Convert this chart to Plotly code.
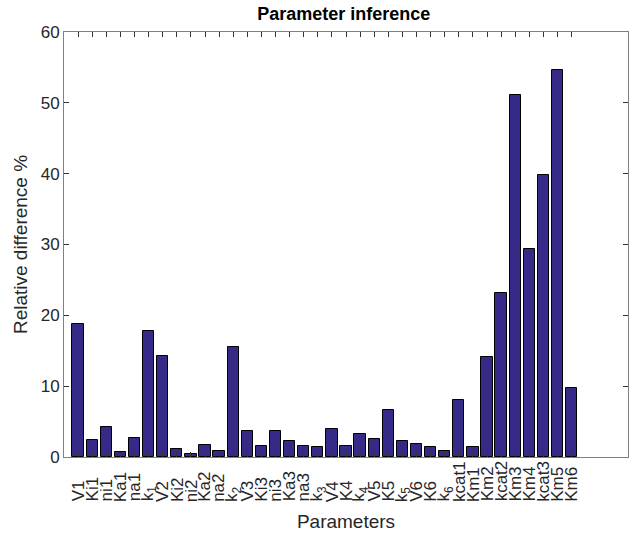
import plotly.graph_objects as go

# Parameter names (k_n rendered with a subscript index)
params = ["V1", "Ki1", "ni1", "Ka1", "na1", "k<sub>1</sub>",
          "V2", "Ki2", "ni2", "Ka2", "na2", "k<sub>2</sub>",
          "V3", "Ki3", "ni3", "Ka3", "na3", "k<sub>3</sub>",
          "V4", "K4", "k<sub>4</sub>", "V5", "K5", "k<sub>5</sub>",
          "V6", "K6", "k<sub>6</sub>",
          "kcat1", "Km1", "Km2", "kcat2", "Km3", "Km4", "kcat3", "Km5", "Km6"]

# Relative difference (%) per parameter
rel_diff = [18.8, 2.4, 4.3, 0.7, 2.7, 17.8,
            14.3, 1.2, 0.4, 1.7, 0.9, 15.5,
            3.7, 1.5, 3.7, 2.2, 1.6, 1.4,
            4.0, 1.6, 3.2, 2.6, 6.7, 2.2,
            1.9, 1.4, 0.9,
            8.0, 1.4, 14.1, 23.2, 51.1, 29.4, 39.8, 54.6, 9.8]

positions = list(range(1, len(params) + 1))

FONT = "Liberation Sans, Arial, Helvetica, sans-serif"
TXT = "#262626"

fig = go.Figure()
fig.add_trace(go.Bar(
    x=positions, y=rel_diff, width=0.8,
    marker=dict(color="#352A87", line=dict(color="#000000", width=1)),
    showlegend=False,
))

# Rotated parameter labels, bottom-aligned below the axis
for xpos, name in zip(positions, params):
    fig.add_annotation(
        x=xpos, xref="x", y=-0.11, yref="paper",
        text=name, textangle=-90, showarrow=False,
        xanchor="center", yanchor="bottom",
        font=dict(family=FONT, size=17, color=TXT),
    )

fig.update_layout(
    width=633, height=537,
    margin=dict(l=64, r=5, t=32, b=80),
    paper_bgcolor="white", plot_bgcolor="white",
    font=dict(family=FONT, color=TXT),
    title=dict(text="<b>Parameter inference</b>", x=0.543, xanchor="center",
               y=1 - 14 / 537, yanchor="middle",
               font=dict(family=FONT, size=18, color="#000000")),
    bargap=0,
)

fig.update_xaxes(
    range=[0, 40], tickmode="array", tickvals=positions, showticklabels=False,
    ticks="inside", ticklen=5, tickcolor="#333333", mirror="ticks",
    showline=True, linecolor="#808080", linewidth=1, showgrid=False, zeroline=False,
    title=dict(text="Parameters", standoff=57, font=dict(family=FONT, size=19, color=TXT)),
)
fig.update_yaxes(
    range=[0, 60], dtick=10, ticks="inside", ticklen=5, tickcolor="#333333",
    mirror="ticks", showline=True, linecolor="#808080", linewidth=1,
    showgrid=False, zeroline=False,
    tickfont=dict(family=FONT, size=17, color=TXT),
    title=dict(text="Relative difference %", standoff=8,
               font=dict(family=FONT, size=19, color=TXT)),
)

fig.write_html("out.html")
